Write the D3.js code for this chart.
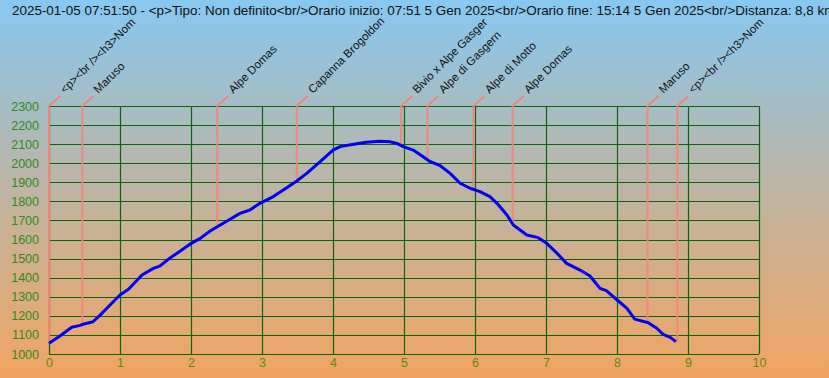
<!DOCTYPE html>
<html>
<head>
<meta charset="utf-8">
<script src="https://cdn.jsdelivr.net/npm/d3@7"></script>
<style>
  body { margin: 0; }
  svg { display: block; font-family: "Liberation Sans", Arial, sans-serif; }
</style>
</head>
<body>
<div id="chart"></div>
<script>
const titleText = "2025-01-05 07:51:50 - <p>Tipo: Non definito<br/>Orario inizio: 07:51 5 Gen 2025<br/>Orario fine: 15:14 5 Gen 2025<br/>Distanza: 8,8 km";

// profilo: distanza (km) e quota (m)
const distances = [0, 0.155, 0.32, 0.44, 0.48, 0.62, 0.72, 0.86, 1.0, 1.12, 1.31, 1.47, 1.56, 1.70, 1.85, 1.99, 2.13, 2.27, 2.37, 2.52, 2.69, 2.83, 2.97, 3.16, 3.30, 3.49, 3.63, 3.82, 4.00, 4.10, 4.29, 4.47, 4.66, 4.80, 4.90, 4.99, 5.13, 5.27, 5.37, 5.51, 5.65, 5.79, 5.93, 6.07, 6.21, 6.31, 6.45, 6.54, 6.73, 6.89, 7.01, 7.15, 7.29, 7.48, 7.62, 7.76, 7.85, 7.99, 8.14, 8.25, 8.44, 8.56, 8.65, 8.75, 8.83];
const elevations = [1056, 1094, 1140, 1150, 1156, 1169, 1204, 1257, 1309, 1339, 1414, 1449, 1461, 1502, 1540, 1577, 1606, 1645, 1667, 1700, 1737, 1755, 1790, 1825, 1860, 1907, 1947, 2008, 2069, 2087, 2099, 2110, 2115, 2113, 2104, 2087, 2069, 2034, 2008, 1987, 1947, 1895, 1869, 1851, 1825, 1790, 1729, 1676, 1624, 1610, 1580, 1530, 1475, 1440, 1409, 1344, 1332, 1287, 1239, 1183, 1164, 1135, 1103, 1087, 1065];

// punti di interesse
const waypointNames = ["<p><br /><h3>Nom", "Maruso", "Alpe Domas", "Capanna Brogoldon", "Bivio x Alpe Gasger", "Alpe di Gasgern", "Alpe di Motto", "Alpe Domas", "Maruso", "<p><br /><h3>Nom"];
const waypointKm = [0, 0.47, 2.37, 3.49, 4.96, 5.33, 5.98, 6.53, 8.43, 8.85];
const waypointElev = [1056, 1152, 1667, 1907, 2096, 2008, 1860, 1693, 1169, 1065];

const xTicks = d3.range(0, 11, 1);
const yTicks = d3.range(1000, 2301, 100);

const W = 829, H = 378;
const margin = { top: 106, right: 70, bottom: 24, left: 49 };

const svg = d3.select("#chart").append("svg")
  .attr("width", W).attr("height", H);

// sfondo
const grad = svg.append("defs").append("linearGradient")
  .attr("id", "bg").attr("x1", 0).attr("y1", 0).attr("x2", 0).attr("y2", 1);
grad.append("stop").attr("offset", "0%").attr("stop-color", "#87c8f1");
grad.append("stop").attr("offset", "45%").attr("stop-color", "#b9b6aa");
grad.append("stop").attr("offset", "100%").attr("stop-color", "#f1a462");
svg.append("rect").attr("width", W).attr("height", H).attr("fill", "url(#bg)");

svg.append("text")
  .attr("x", 12).attr("y", 15)
  .attr("font-size", 13.45).attr("fill", "#111")
  .text(titleText);

const x = d3.scaleLinear().domain([0, 10]).range([margin.left, W - margin.right]);
const y = d3.scaleLinear().domain([1000, 2300]).range([H - margin.bottom, margin.top]);

// griglia
const grid = svg.append("g");
grid.selectAll(".gx").data(xTicks).join("line")
  .attr("x1", d => Math.round(x(d)) + 0.5).attr("x2", d => Math.round(x(d)) + 0.5)
  .attr("y1", y(2300)).attr("y2", y(1000))
  .attr("stroke", "#0a6410").attr("stroke-width", 1.2);
grid.selectAll(".gy").data(yTicks).join("line")
  .attr("x1", x(0)).attr("x2", x(10))
  .attr("y1", d => Math.round(y(d)) + 0.5).attr("y2", d => Math.round(y(d)) + 0.5)
  .attr("stroke", "#0a6410").attr("stroke-width", 1.2);

// assi
const yAxis = svg.append("g")
  .attr("transform", `translate(${margin.left},0)`)
  .call(d3.axisLeft(y).tickValues(yTicks).tickFormat(d3.format("d")).tickSize(0).tickPadding(10));
yAxis.select(".domain").remove();
yAxis.selectAll("text").attr("font-size", 12.5).attr("fill", "#2f8a1c")
  .attr("font-family", "Liberation Sans, Arial, sans-serif");

const xAxis = svg.append("g")
  .attr("transform", `translate(0,${H - margin.bottom})`)
  .call(d3.axisBottom(x).tickValues(xTicks).tickSize(0).tickPadding(4));
xAxis.select(".domain").remove();
xAxis.selectAll("text").attr("font-size", 12.5).attr("fill", "#5f8c08")
  .attr("font-family", "Liberation Sans, Arial, sans-serif");

// punti di interesse
const wp = svg.append("g");
waypointKm.forEach((km, i) => {
  const px = x(km);
  wp.append("path")
    .attr("d", `M${px},${y(waypointElev[i])}V${y(2300)}l11,-10`)
    .attr("fill", "none")
    .attr("stroke", "#f0857a").attr("stroke-opacity", 0.95).attr("stroke-width", 2);
  wp.append("text")
    .attr("transform", `translate(${px + 16},${y(2300) - 12}) rotate(-45)`)
    .attr("font-size", 11.5).attr("fill", "#111")
    .text(waypointNames[i]);
});

// profilo
const profile = distances.map((d, i) => [d, elevations[i]]);
svg.append("path")
  .datum(profile)
  .attr("fill", "none")
  .attr("stroke", "#0000f0")
  .attr("stroke-width", 3)
  .attr("stroke-linejoin", "round")
  .attr("d", d3.line().x(d => x(d[0])).y(d => y(d[1])));
</script>
</body>
</html>
